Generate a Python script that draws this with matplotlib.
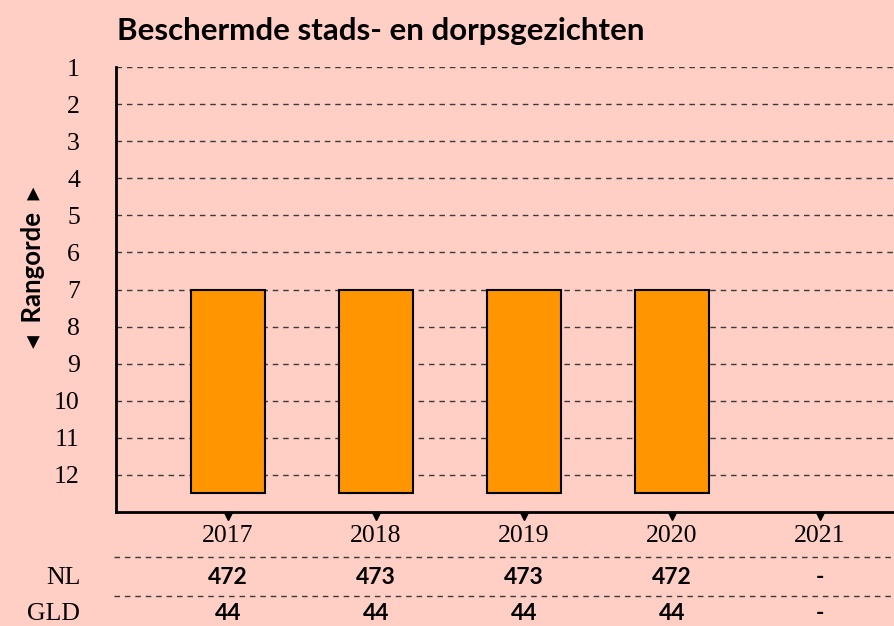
import matplotlib.pyplot as plt
import numpy as np
from matplotlib.transforms import blended_transform_factory

years = ['2017', '2018', '2019', '2020', '2021']
rank = [7, 7, 7, 7, np.nan]
nl_values = [472, 473, 473, 472, None]
gld_values = [44, 44, 44, 44, None]

bg = '#ffcec4'
bar_color = '#ff9500'
serif = 'Liberation Serif'
sans = ['Lato', 'DejaVu Sans']

fig = plt.figure(figsize=(8.95, 6.26), dpi=100, facecolor=bg)
ax = fig.add_axes([116 / 895, 114 / 626, 779 / 895, 445 / 626])
ax.set_facecolor(bg)

x = np.arange(len(years))
bar_bottom = 12.5

# grid lines behind the bars
for r in range(1, 13):
    ax.axhline(r, color='#3a3a3a', lw=1, ls=(0, (4, 3.5)), zorder=1)

for xi, r in zip(x, rank):
    if np.isnan(r):
        continue
    ax.bar(xi, bar_bottom - r, bottom=r, width=0.5, color=bar_color,
           edgecolor='black', lw=1.5, zorder=3)

ax.set_ylim(13, 1)
ax.set_xlim(-0.757, 4.507)

ax.set_yticks(range(1, 13))
ax.set_yticklabels([str(i) for i in range(1, 13)], fontfamily=serif, fontsize=18.5)
ax.tick_params(axis='y', length=0, pad=26)

ax.set_xticks(x)
ax.set_xticklabels(years, fontfamily=serif, fontsize=18.5)
ax.tick_params(axis='x', length=0, pad=9)

for s in ['top', 'right']:
    ax.spines[s].set_visible(False)
ax.spines['left'].set_linewidth(2)
ax.spines['bottom'].set_linewidth(2)

# small triangle tick marks under the x axis
trans = blended_transform_factory(ax.transData, ax.transAxes)
ax.plot(x, [-0.01] * len(x), 'v', color='black', markersize=6,
        transform=trans, clip_on=False, zorder=5)

ax.set_ylabel('\u25c2  Rangorde  \u25b8', fontfamily=sans, fontweight='bold',
              fontsize=18.5, va='center')
ax.yaxis.set_label_coords(-0.107, 0.55)

# table below the chart
for yy in [-0.101, -0.189]:
    ax.plot([-0.002, 1], [yy, yy], color='#3a3a3a', lw=1, ls=(0, (4, 3.5)),
            transform=ax.transAxes, clip_on=False)

rows = [('NL', nl_values, -0.148), ('GLD', gld_values, -0.229)]
for label, vals, yy in rows:
    ax.text(-0.046, yy, label, transform=ax.transAxes, ha='right', va='center',
            fontfamily=serif, fontsize=18.5)
    for xi, v in zip(x, vals):
        txt = '-' if v is None else str(v)
        ax.text(xi, yy, txt, transform=trans, ha='center', va='center',
                fontfamily=sans, fontweight='bold', fontsize=16.5, clip_on=False)

fig.text(117 / 895, 1 - 31 / 626, 'Beschermde stads- en dorpsgezichten',
         fontfamily=sans, fontweight='bold', fontsize=22.5, va='center', ha='left')

fig.savefig('out.png', dpi=100, facecolor=bg)
